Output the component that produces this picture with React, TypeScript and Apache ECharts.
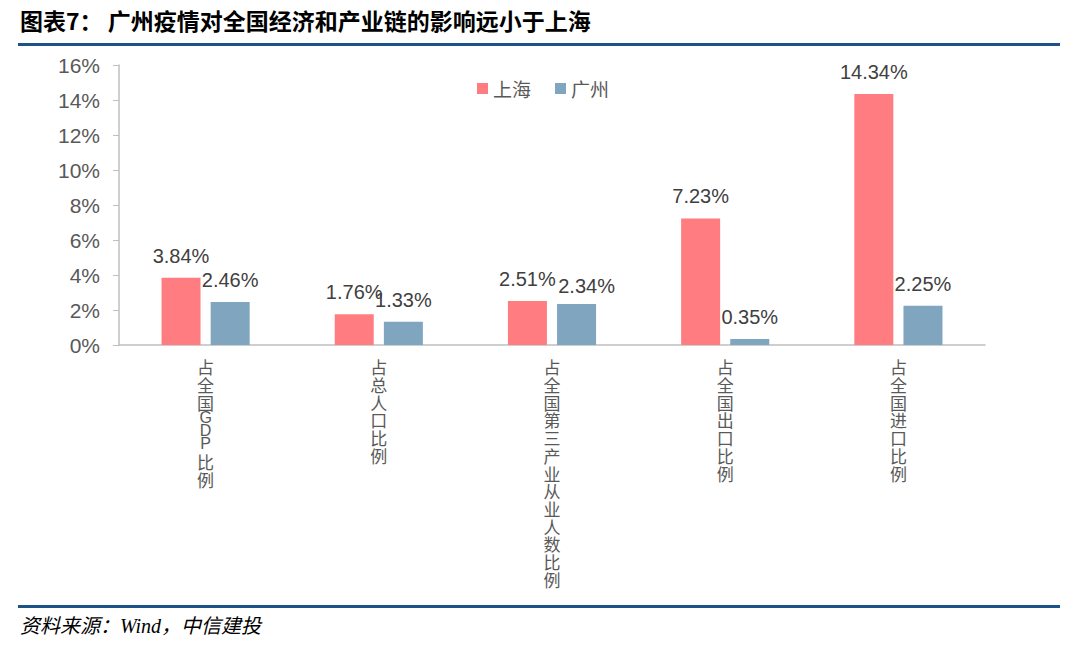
import React, { useEffect, useRef } from "react";
import * as echarts from "echarts";

const categories = ["占全国GDP 比例", "占总人口比例", "占全国第三产业从业人数比例", "占全国出口比例", "占全国进口比例"];
const shanghai = [3.84, 1.76, 2.51, 7.23, 14.34];
const guangzhou = [2.46, 1.33, 2.34, 0.35, 2.25];
const yTicks = { min: 0, max: 16, interval: 2 };
const titleText = "图表7： 广州疫情对全国经济和产业链的影响远小于上海";
const sourceText = "资料来源：Wind，中信建投";

function verticalLabel(v: string): string {
  return v
    .split("")
    .map((ch) => {
      if (ch === " ") return "{sp|\u00a0}";
      if (/[A-Za-z]/.test(ch)) return "{lat|" + ch + "}";
      return "{cn|" + ch + "}";
    })
    .join("\n");
}

export default function App() {
  const ref = useRef<HTMLDivElement>(null);
  useEffect(() => {
    const chart = echarts.init(ref.current!, null, { renderer: "svg" });
    const labelStyle = {
      show: true,
      position: "top",
      distance: 12,
      color: "#404040",
      fontSize: 20,
      fontFamily: "Arial, 'Liberation Sans', sans-serif",
      formatter: (p: any) => Number(p.value).toFixed(2) + "%",
    };
    const ff = "'Noto Sans CJK SC', sans-serif";
    // nudge a crowded label sideways, as in the reference
    const gzData = guangzhou.map((v, i) =>
      i === 2 ? { value: v, label: { offset: [10, 4] } } : v
    );
    chart.setOption({
      animation: false,
      backgroundColor: "#ffffff",
      grid: { left: 119, right: 95, top: 65, bottom: 309, containLabel: false },
      legend: {
        left: 472,
        top: 74,
        itemWidth: 11,
        itemHeight: 11,
        itemGap: 24,
        icon: "rect",
        textStyle: { color: "#595959", fontSize: 19, fontFamily: ff },
        data: ["上海", "广州"],
      },
      xAxis: {
        type: "category",
        data: categories,
        axisLine: { lineStyle: { color: "#bfbfbf", width: 1.5 } },
        axisTick: { show: false },
        axisLabel: {
          interval: 0,
          margin: 13,
          color: "#595959",
          fontSize: 17,
          fontFamily: ff,
          formatter: verticalLabel,
          rich: {
            cn: { fontSize: 17, lineHeight: 17.7, color: "#595959", fontFamily: ff },
            lat: {
              fontSize: 16,
              lineHeight: 13,
              color: "#595959",
              fontFamily: "Arial, 'Liberation Sans', sans-serif",
            },
            sp: { fontSize: 3, lineHeight: 3 },
          },
        },
      },
      yAxis: {
        type: "value",
        min: yTicks.min,
        max: yTicks.max,
        interval: yTicks.interval,
        splitLine: { show: false },
        axisLine: { show: true, lineStyle: { color: "#bfbfbf", width: 1.5 } },
        axisTick: { show: true, length: 6, lineStyle: { color: "#bfbfbf" } },
        axisLabel: {
          color: "#595959",
          fontSize: 21,
          margin: 19,
          fontFamily: "Arial, 'Liberation Sans', sans-serif",
          formatter: "{value}%",
        },
      },
      series: [
        {
          name: "上海",
          type: "bar",
          data: shanghai,
          barWidth: 39,
          barGap: "26%",
          itemStyle: { color: "#ff7c80" },
          label: labelStyle,
        },
        {
          name: "广州",
          type: "bar",
          data: gzData,
          barWidth: 39,
          itemStyle: { color: "#7fa5bf" },
          label: labelStyle,
        },
      ],
      graphic: [
        {
          type: "text",
          left: 20,
          top: 8,
          style: {
            text: titleText,
            fontSize: 23,
            fontWeight: "bold",
            fill: "#000000",
            fontFamily: ff,
          },
        },
        {
          type: "rect",
          shape: { x: 18, y: 43, width: 1042, height: 3 },
          style: { fill: "#1b5288" },
        },
        {
          type: "rect",
          shape: { x: 18, y: 605, width: 1042, height: 3 },
          style: { fill: "#1b5288" },
        },
        {
          type: "text",
          left: 20,
          top: 616,
          style: {
            text: sourceText,
            fontSize: 20,
            fontStyle: "italic",
            fill: "#000000",
            fontFamily: "'Liberation Serif', 'Noto Sans CJK SC', serif",
          },
        },
      ],
    });
    return () => chart.dispose();
  }, []);
  return <div ref={ref} style={{ position: "fixed", left: 0, top: 0, width: 1080, height: 654 }} />;
}
